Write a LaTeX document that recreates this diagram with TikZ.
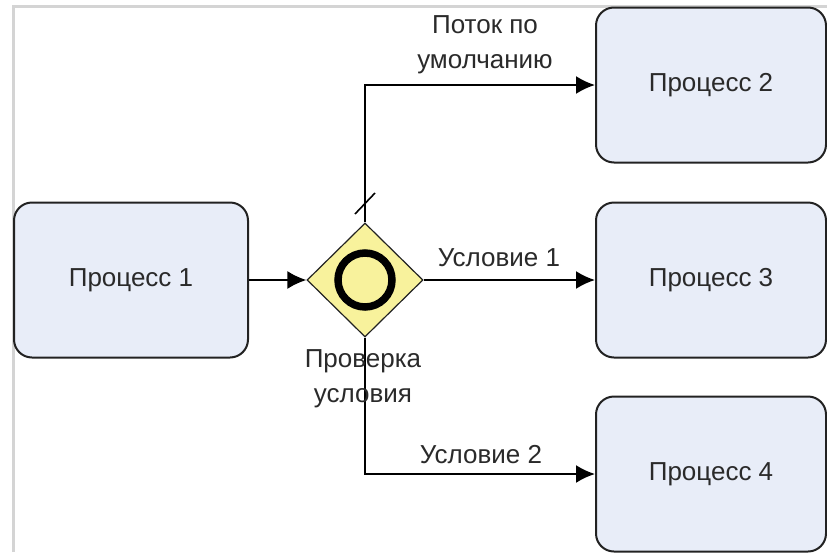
\documentclass[tikz,border=0pt]{standalone}
\usepackage{fontspec}
\setmainfont{Liberation Sans}
\usetikzlibrary{arrows.meta,shapes.geometric}
\definecolor{taskfill}{HTML}{E8EDF8}
\definecolor{gatefill}{HTML}{F8F29C}
\definecolor{inkline}{HTML}{222222}
\definecolor{textgray}{HTML}{2A2A2A}
\definecolor{framegray}{HTML}{D4D4D4}
\begin{document}
\begin{tikzpicture}[x=1pt,y=-1pt,
  txt/.style={font=\fontsize{26}{35}\selectfont, text=textgray},
  task/.style={draw=inkline, line width=2pt, fill=taskfill, rounded corners=18pt,
    minimum width=230pt, minimum height=155pt, inner sep=0pt, txt},
  gate/.style={diamond, draw=inkline, line width=1.2pt, fill=gatefill, inner sep=0pt,
    minimum width=116pt, minimum height=114pt},
  ring/.style={circle, draw=black, line width=7.5pt, minimum size=54pt, inner sep=0pt},
  flow/.style={draw=black, line width=2pt, -{Latex[length=19pt,width=18pt]}},
  lbl/.style={txt, align=center, inner sep=0pt}]
  \useasboundingbox (0,0) rectangle (827,552);
  \fill[white] (0,0) rectangle (827,552);
  % page frame
  \draw[framegray, line width=3pt] (13,552) -- (13,6) -- (827,6);

  % tasks
  \node[task, minimum width=234pt] (p1) at (131,280) {Процесс 1};
  \node[task] (p2) at (711,85) {Процесс 2};
  \node[task] (p3) at (711,280) {Процесс 3};
  \node[task] (p4) at (711,474) {Процесс 4};

  % inclusive gateway
  \node[gate] (gw) at (365,280) {};
  \node[ring] (gwring) at (gw.center) {};

  % sequence flows
  \draw[flow] (p1.east) -- (gw.west);
  \draw[flow] (gw.north) |- (p2.west);
  \draw[flow] (gw.east) -- (p3.west);
  \draw[flow] (gw.south) |- (p4.west);

  % default-flow slash
  \coordinate (slashA) at (355,214);
  \coordinate (slashB) at (375,193);
  \draw[black, line width=1.6pt] (slashA) -- (slashB);

  % labels
  \node[lbl] (ldef) at (485,45) {Поток по\\умолчанию};
  \node[lbl] (lc1) at (499,258) {Условие 1};
  \node[lbl] (lc2) at (481,455) {Условие 2};
  \node[lbl] (lgw) at (363,379) {Проверка\\условия};
\end{tikzpicture}
\end{document}
